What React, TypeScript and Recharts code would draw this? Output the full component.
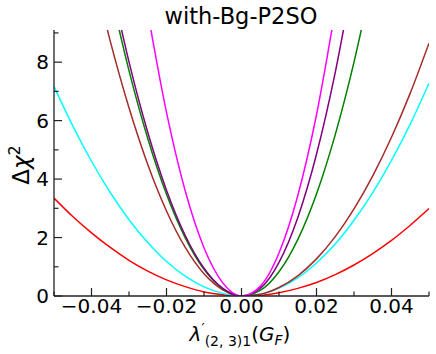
import { LineChart, Line, XAxis, YAxis } from 'recharts';

// lambda' grid and delta chi^2
const xs = [-0.05, -0.045, -0.04, -0.035, -0.03, -0.025, -0.02, -0.015, -0.01, -0.005, 0, 0.005, 0.01, 0.015, 0.02, 0.025, 0.03, 0.035, 0.04, 0.045, 0.05];

const red = [3.35, 2.72, 2.16, 1.66, 1.22, 0.85, 0.55, 0.32, 0.14, 0.04, 0, 0.02, 0.11, 0.26, 0.46, 0.73, 1.06, 1.45, 1.9, 2.42, 2.99];
const cyan = [7.17, 5.82, 4.61, 3.54, 2.61, 1.83, 1.18, 0.68, 0.31, 0.09, 0, 0.06, 0.27, 0.62, 1.13, 1.78, 2.59, 3.54, 4.64, 5.88, 7.28];
const brown = [null, null, 11.35, 8.72, 6.44, 4.5, 2.91, 1.66, 0.76, 0.21, 0, 0.06, 0.29, 0.69, 1.27, 2.03, 2.98, 4.11, 5.43, 6.94, 8.65];
const green = [null, null, null, 10.44, 7.71, 5.39, 3.48, 1.99, 0.91, 0.25, 0, 0.19, 0.83, 1.93, 3.49, 5.52, 8.0, 10.94, null, null, null];
const purple = [null, null, null, 10.86, 8.01, 5.6, 3.62, 2.07, 0.95, 0.26, 0, 0.26, 1.15, 2.68, 4.85, 7.65, 11.09, null, null, null, null];
const magenta = [null, null, null, null, null, 9.71, 6.28, 3.59, 1.65, 0.45, 0, 0.33, 1.47, 3.43, 6.2, 9.79, null, null, null, null, null];

const xTicks = [-0.05, -0.04, -0.03, -0.02, -0.01, 0, 0.01, 0.02, 0.03, 0.04, 0.05];
const yTicks = [0, 1, 2, 3, 4, 5, 6, 7, 8, 9];

const SERIES = [
    { key: 'red', values: red, color: '#ff0000' },
    { key: 'cyan', values: cyan, color: '#00ffff' },
    { key: 'brown', values: brown, color: '#a52a2a' },
    { key: 'green', values: green, color: '#008000' },
    { key: 'purple', values: purple, color: '#800080' },
    { key: 'magenta', values: magenta, color: '#ff00ff' },
];

const data = xs.map((x, i) => {
    const row: Record<string, number | null> = { x };
    SERIES.forEach(s => { row[s.key] = s.values[i]; });
    return row;
});

const FONT = '"DejaVu Sans", sans-serif';
const AXIS = '#222';
const W = 436;
const H = 354;

const isMajorX = (v: number) => Math.abs(Math.round(v * 100)) % 2 === 0;
const isMajorY = (v: number) => Math.round(v) % 2 === 0;
const fmtX = (v: number) => v.toFixed(2).replace('-', '\u2212');

function BottomTick({ x, y, payload }: any) {
    const major = isMajorX(payload.value);
    return (
        <g>
            <line x1={x} x2={x} y1={y} y2={y - (major ? 8 : 4.5)} stroke={AXIS} strokeWidth={1.2} />
            {major && (
                <text x={x} y={y + 17} textAnchor="middle" fontSize={20} fontFamily={FONT} fill="#000">
                    {fmtX(payload.value)}
                </text>
            )}
        </g>
    );
}

function TopTick({ x, y, payload }: any) {
    const major = isMajorX(payload.value);
    return <line x1={x} x2={x} y1={y} y2={y + (major ? 8 : 4.5)} stroke={AXIS} strokeWidth={1.2} />;
}

function LeftTick({ x, y, payload }: any) {
    const major = isMajorY(payload.value);
    return (
        <g>
            <line x1={x} x2={x + (major ? 8 : 4.5)} y1={y} y2={y} stroke={AXIS} strokeWidth={1.2} />
            {major && (
                <text x={x - 5} y={y + 7} textAnchor="end" fontSize={20} fontFamily={FONT} fill="#000">
                    {payload.value}
                </text>
            )}
        </g>
    );
}

function RightTick({ x, y, payload }: any) {
    const major = isMajorY(payload.value);
    return <line x1={x} x2={x - (major ? 8 : 4.5)} y1={y} y2={y} stroke={AXIS} strokeWidth={1.2} />;
}

export default function App() {
    return (
        <div style={{ position: 'relative', width: W, height: H, background: '#fff' }}>
            <style>{`body { margin: 0; }`}</style>
            <LineChart width={W} height={H} data={data} margin={{ top: 30, right: 7, bottom: 0, left: 0 }}>
                <XAxis
                    dataKey="x"
                    type="number"
                    domain={[-0.05, 0.05]}
                    allowDataOverflow
                    ticks={xTicks}
                    interval={0}
                    height={58}
                    tickSize={0}
                    tickMargin={0}
                    tickLine={false}
                    axisLine={{ stroke: AXIS, strokeWidth: 1.3 }}
                    tick={<BottomTick />}
                />
                <XAxis
                    xAxisId="top"
                    orientation="top"
                    dataKey="x"
                    type="number"
                    domain={[-0.05, 0.05]}
                    allowDataOverflow
                    ticks={xTicks}
                    interval={0}
                    height={0}
                    tickSize={0}
                    tickMargin={0}
                    tickLine={false}
                    axisLine={{ stroke: AXIS, strokeWidth: 1.3 }}
                    tick={<TopTick />}
                />
                <YAxis
                    type="number"
                    domain={[0, 9.1]}
                    allowDataOverflow
                    ticks={yTicks}
                    interval={0}
                    width={54}
                    tickSize={0}
                    tickMargin={0}
                    tickLine={false}
                    axisLine={{ stroke: AXIS, strokeWidth: 1.3 }}
                    tick={<LeftTick />}
                />
                <YAxis
                    yAxisId="right"
                    orientation="right"
                    type="number"
                    domain={[0, 9.1]}
                    allowDataOverflow
                    ticks={yTicks}
                    interval={0}
                    width={0}
                    tickSize={0}
                    tickMargin={0}
                    tickLine={false}
                    axisLine={{ stroke: AXIS, strokeWidth: 1.3 }}
                    tick={<RightTick />}
                />
                {SERIES.map(s => (
                    <Line
                        key={s.key}
                        dataKey={s.key}
                        type="monotone"
                        stroke={s.color}
                        strokeWidth={1.5}
                        dot={false}
                        activeDot={false}
                        isAnimationActive={false}
                    />
                ))}
            </LineChart>
            <svg width={W} height={H} style={{ position: 'absolute', left: 0, top: 0, pointerEvents: 'none' }}>
                <text x={241} y={24} textAnchor="middle" fontSize={22.5} fontFamily={FONT} fill="#000">
                    with-Bg-P2SO
                </text>
                <text transform="translate(29,165) rotate(-90)" textAnchor="middle" fontSize={23} fontFamily={FONT} fill="#000">
                    Δ<tspan fontStyle="italic">χ</tspan>
                    <tspan fontSize={16} dy={-9}>2</tspan>
                </text>
                <text x={240} y={341} textAnchor="middle" fontSize={20} fontFamily={FONT} fill="#000">
                    <tspan fontStyle="italic">λ</tspan>
                    <tspan fontSize={14} dy={-8}>′</tspan>
                    <tspan fontSize={14} dy={13}>(2, 3)1</tspan>
                    <tspan dy={-5}>(</tspan>
                    <tspan fontStyle="italic">G</tspan>
                    <tspan fontSize={14} fontStyle="italic" dy={4}>F</tspan>
                    <tspan dy={-4}>)</tspan>
                </text>
            </svg>
        </div>
    );
}
